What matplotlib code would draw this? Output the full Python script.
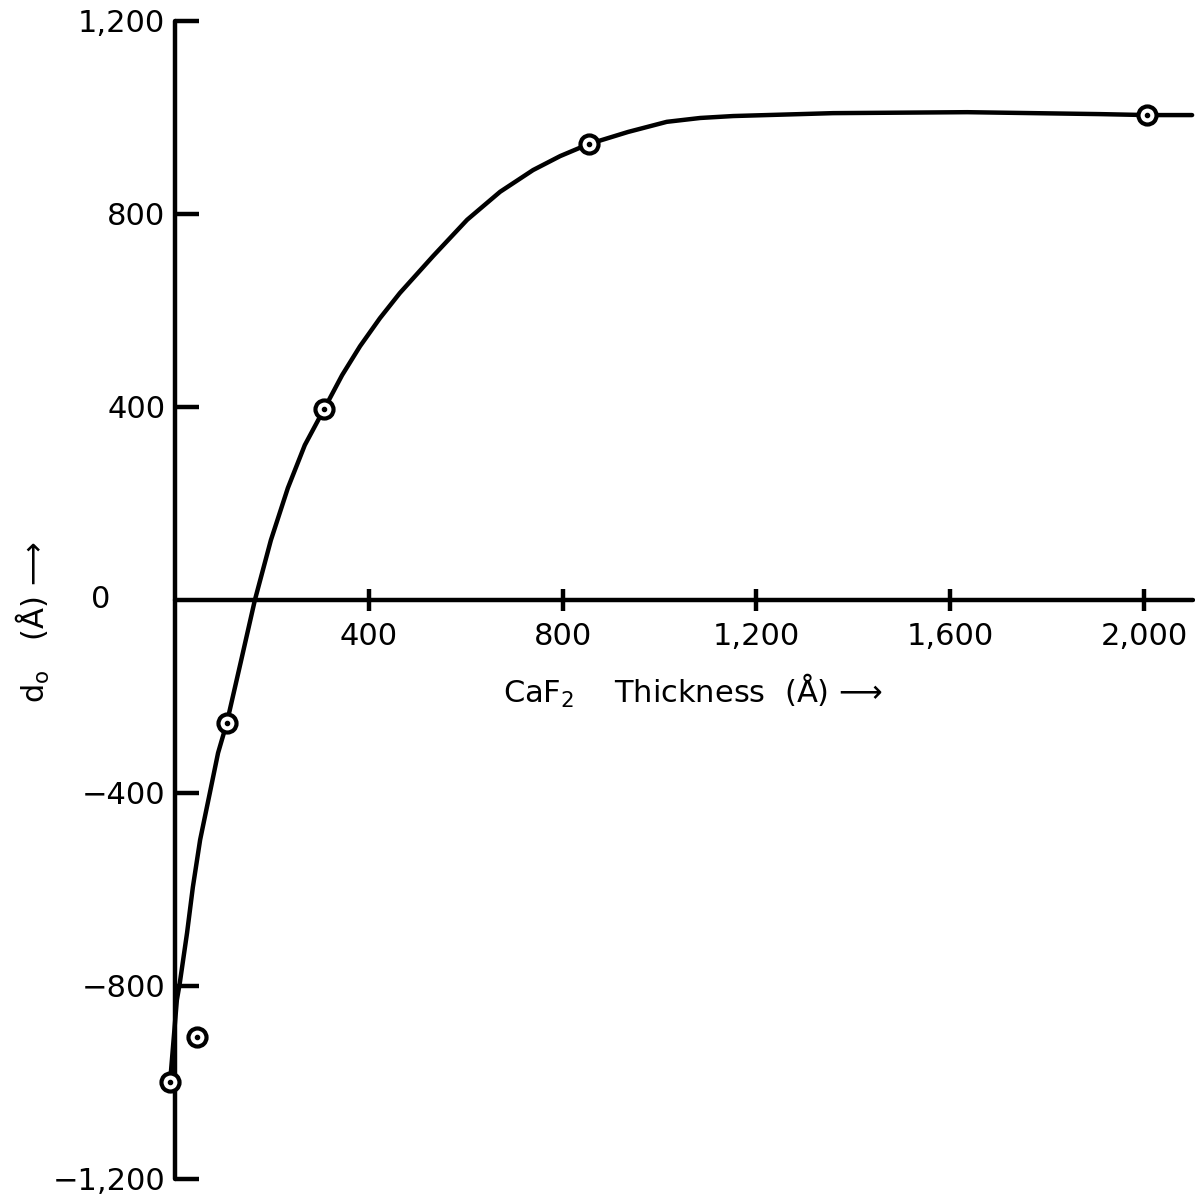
import matplotlib
matplotlib.use("Agg")
import matplotlib.pyplot as plt

plt.rcParams['font.family'] = ['DejaVu Sans']

# Measured offsets d0 versus CaF2 film thickness (Å)
thickness = [-10, 45, 107, 308, 854, 2006]
d0 = [-999, -906, -255, 396, 945, 1005]

# Hand-drawn trend curve through the measurements
curve_x = [-10, 4, 10, 25, 37, 52, 72, 89, 107, 136, 165, 198, 233, 268, 308,
           345, 382, 423, 464, 533, 603, 671, 739, 795, 854, 935, 1015, 1084,
           1152, 1290, 1358, 1635, 1909, 2006, 2099]
curve_y = [-999, -829, -794, -690, -595, -497, -400, -317, -255, -128, 0, 124,
           232, 321, 396, 466, 526, 584, 636, 713, 788, 846, 891, 920, 945,
           970, 991, 999, 1003, 1007, 1009, 1011, 1007, 1005, 1005]

x_ticks = [400, 800, 1200, 1600, 2000]
x_tick_labels = ["400", "800", "1,200", "1,600", "2,000"]
y_ticks = [-1200, -800, -400, 400, 800, 1200]
y_tick_labels = ["\u22121,200", "\u2212800", "\u2212400", "400", "800", "1,200"]

fig = plt.figure(figsize=(11.95, 11.99), dpi=100)
ax = fig.add_axes([0, 0, 1, 1])
ax.set_xlim(-361, 2105)
ax.set_ylim(-1241.5, 1243.5)
ax.patch.set_visible(False)

lw = 3.2
for side in ("top", "right"):
    ax.spines[side].set_visible(False)
ax.spines["left"].set_position(("data", 0))
ax.spines["bottom"].set_position(("data", 0))
ax.spines["left"].set_bounds(-1200, 1200)
ax.spines["bottom"].set_bounds(0, 2100)
for side in ("left", "bottom"):
    ax.spines[side].set_linewidth(lw)
    ax.spines[side].set_capstyle("round")

ax.set_xticks(x_ticks)
ax.set_xticklabels(x_tick_labels)
ax.set_yticks(y_ticks)
ax.set_yticklabels(y_tick_labels)
ax.tick_params(axis="x", direction="inout", length=16, width=lw, pad=8,
               labelsize=22)
ax.tick_params(axis="y", direction="in", length=17, width=lw, pad=7,
               labelsize=22)
ax.text(-153, 0, "0", ha="center", va="center", fontsize=22)

# Trend curve and data points
ax.plot(curve_x, curve_y, color="black", lw=lw, solid_capstyle="round",
        solid_joinstyle="round", zorder=3)
ax.plot(thickness, d0, ls="none", marker="o", ms=13, mfc="white",
        mec="black", mew=3, zorder=4)
ax.plot(thickness, d0, ls="none", marker="o", ms=3, mfc="black",
        mec="black", zorder=5)

ax.set_xlabel("CaF$_2$    Thickness  (Å) \u27f6", fontsize=22)
ax.xaxis.set_label_coords(693 / 1195, 1 - 672 / 1199)
ax.set_ylabel("d$_{\\rm o}$   (Å) \u27f6", fontsize=22)
ax.yaxis.set_label_coords(52 / 1195, 1 - 622 / 1199)

fig.savefig("out.png", dpi=100)
